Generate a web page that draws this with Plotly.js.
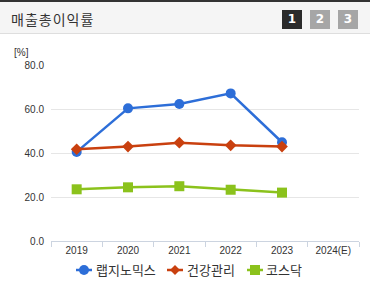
<!DOCTYPE html>
<html><head><meta charset="utf-8">
<script src="https://cdn.plot.ly/plotly-3.0.1.min.js"></script>
<style>
html,body{margin:0;padding:0;background:#fff;}
#wrap{position:relative;width:370px;height:285px;overflow:hidden;}
#chart{position:absolute;left:0;top:0;width:370px;height:285px;}
#hdr{position:absolute;left:0;top:0;width:370px;height:34px;background:#f5f5f5;border-top:2px solid #333;border-bottom:1px solid #dedede;box-sizing:border-box;z-index:2;}
#ttl{position:absolute;left:11px;top:7px;font-family:"Noto Sans CJK KR";font-size:14px;color:#333;letter-spacing:1px;}
.btn{position:absolute;top:8px;width:20px;height:19px;color:#fff;font-family:"DejaVu Sans";font-weight:bold;font-size:12px;text-align:center;line-height:19px;}
#leg{position:absolute;left:0;top:259px;width:370px;height:22px;z-index:2;font-family:"Noto Sans CJK KR";font-size:13px;color:#333;}
.li{position:absolute;top:0;height:22px;line-height:22px;white-space:nowrap;}
.li svg{position:absolute;left:0;top:4px;}
.li span{position:absolute;top:0;}
</style></head>
<body><div id="wrap">
<div id="chart"></div>
<div id="hdr"><div id="ttl">매출총이익률</div>
<div class="btn" style="left:282px;background:#2b2b2b;">1</div>
<div class="btn" style="left:310px;background:#a6a6a6;">2</div>
<div class="btn" style="left:338px;background:#a6a6a6;">3</div>
</div>
<div id="leg"></div>
</div>
<script>
const years = ["2019","2020","2021","2022","2023","2024(E)"];
const seriesNames = ["랩지노믹스","건강관리","코스닥"];
const labgenomics = [40.5, 60.3, 62.3, 67.1, 44.9, null];
const health = [41.7, 42.9, 44.7, 43.5, 42.9, null];
const kosdaq = [23.5, 24.4, 24.9, 23.3, 22.0, null];
const yTicks = [0, 20, 40, 60, 80];

const colors = ["#2d6ed8", "#c9400f", "#8bc21c"];
const symbols = ["circle", "diamond", "square"];
const sizes = [10, 9, 10];
const vals = [labgenomics, health, kosdaq];
const traces = vals.map((v, i) => ({
  x: years, y: v, name: seriesNames[i], type: "scatter", mode: "lines+markers",
  line: {color: colors[i], width: 2.5},
  marker: {color: colors[i], symbol: symbols[i], size: sizes[i]},
  hoverinfo: "skip"
}));
const layout = {
  width: 370, height: 285,
  margin: {l: 51, r: 11, t: 65, b: 44},
  paper_bgcolor: "#fff", plot_bgcolor: "#fff",
  showlegend: false,
  xaxis: {type: "category", categoryorder: "array", categoryarray: years, tickson: "boundaries",
    ticks: "outside", ticklen: 5, tickcolor: "#ccd4e0", showline: true, linecolor: "#ccd4e0", linewidth: 1,
    showgrid: false, zeroline: false, tickfont: {family: "Liberation Sans", size: 10, color: "#333"},
    range: [-0.5, 5.5]},
  yaxis: {range: [0, 80], tickvals: yTicks, ticktext: yTicks.map(t => t.toFixed(1)),
    showgrid: true, gridcolor: "#e6e6e6", gridwidth: 1, zeroline: false, showline: false,
    tickfont: {family: "Liberation Sans", size: 10, color: "#333"}, ticks: "", ticklabelstandoff: 6},
  annotations: [{text: "[%]", xref: "paper", yref: "paper", x: -0.127, y: 1.03, xanchor: "left", yanchor: "bottom",
    showarrow: false, font: {family: "Liberation Sans", size: 10, color: "#333"}}]
};
Plotly.newPlot("chart", traces, layout, {staticPlot: true, displayModeBar: false});

// custom compact legend (symbol + name), built from the series arrays
const legPos = [[76, 96], [167, 187], [247, 266]];
const leg = document.getElementById("leg");
seriesNames.forEach((n, i) => {
  const c = colors[i];
  let m;
  if (symbols[i] === "circle") m = `<circle cx="8" cy="7" r="5" fill="${c}"/>`;
  else if (symbols[i] === "diamond") m = `<polygon points="8,2 13,7 8,12 3,7" fill="${c}"/>`;
  else m = `<rect x="3" y="2" width="10" height="10" fill="${c}"/>`;
  const d = document.createElement("div");
  d.className = "li";
  d.style.left = legPos[i][0] + "px";
  d.innerHTML = `<svg width="16" height="14"><line x1="0" y1="7" x2="16" y2="7" stroke="${c}" stroke-width="2.5"/>${m}</svg><span style="left:${legPos[i][1]-legPos[i][0]}px">${n}</span>`;
  leg.appendChild(d);
});
</script></body></html>
